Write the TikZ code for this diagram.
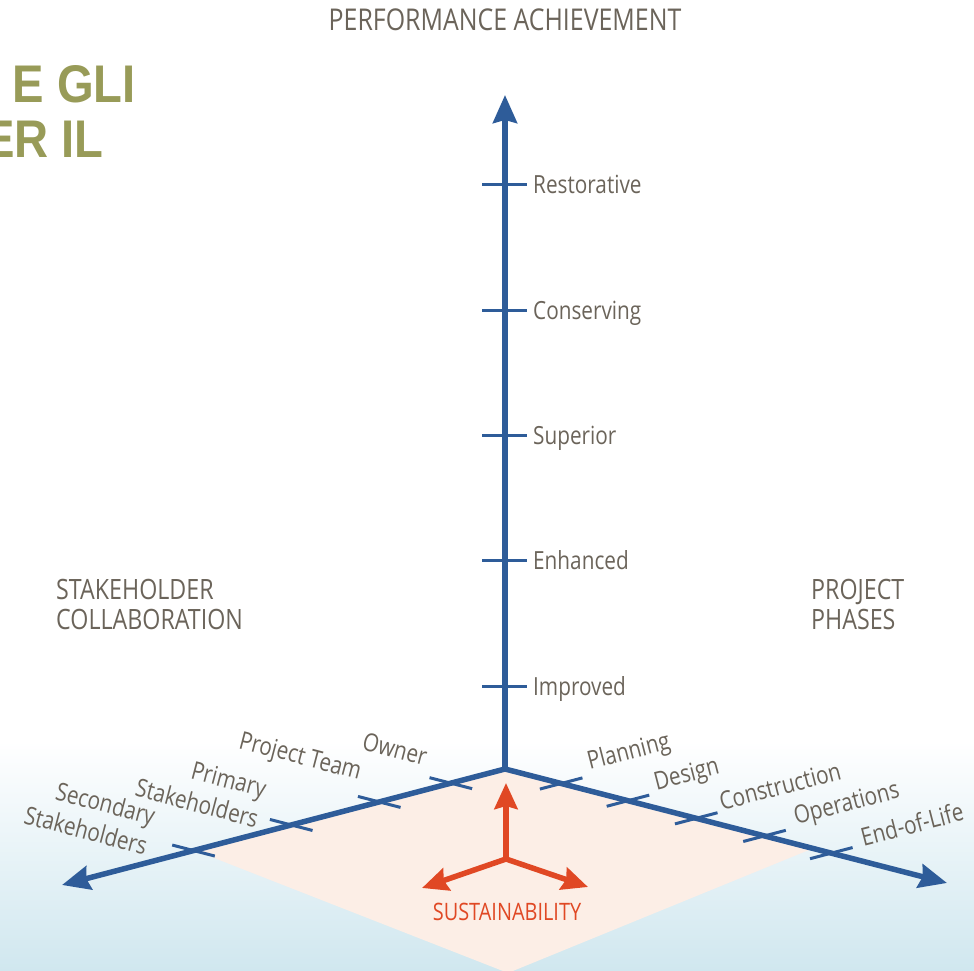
\documentclass[tikz,border=0pt]{standalone}
\usepackage{fontspec}
\setmainfont{Open Sans}[FakeStretch=0.83]
\newfontfamily\bannerfont{Liberation Sans}[FakeStretch=0.89]
\usetikzlibrary{calc,arrows.meta,positioning,shadings}
\definecolor{axisblue}{RGB}{46,92,153}
\definecolor{labelgrey}{RGB}{107,100,90}
\definecolor{sustred}{RGB}{224,72,36}
\definecolor{bannerolive}{RGB}{152,155,88}
\definecolor{peach}{RGB}{252,238,230}
\definecolor{skyblue}{RGB}{208,231,239}
\tikzset{
  mainaxis/.style={draw=axisblue, line width=5.5pt,
    -{Stealth[length=28pt,width=24pt,inset=3pt]}},
  axistick/.style={draw=axisblue, line width=3pt},
  sustarrow/.style={draw=sustred, line width=5.5pt,
    -{Stealth[length=26pt,width=23pt,inset=3pt]}},
  levellabel/.style={text=labelgrey, font=\fontsize{25}{30}\selectfont,
    anchor=base west, inner sep=0pt},
  axislabel/.style={text=labelgrey, font=\fontsize{25}{31}\selectfont,
    inner sep=0pt},
  heading/.style={text=labelgrey, font=\fontsize{28}{30}\selectfont,
    inner sep=0pt, align=left},
}

\begin{document}
\begin{tikzpicture}[x=1pt,y=1pt]
  \useasboundingbox (0,0) rectangle (974,971);
  % background
  \shade[top color=white, middle color=skyblue!50, bottom color=skyblue]
    (0,0) rectangle (974,230);

  \coordinate (O) at (505,202);
  \coordinate (top) at (505,876);
  \coordinate (left) at (62,86);
  \coordinate (right) at (947,88);

  % floor
  \fill[peach] (O) -- ($(O)!321pt!(left)$) -- (508,-2)
    -- ($(O)!318pt!(right)$) -- cycle;

  % sustainability
  \coordinate (S) at (506,112);
  \coordinate (Sup) at (506,188);
  \coordinate (Sleft) at (422,83);
  \coordinate (Sright) at (588,84);
  \draw[sustarrow] (S) -- (Sup);
  \draw[sustarrow] (S) -- (Sleft);
  \draw[sustarrow] (S) -- (Sright);
  \node[text=sustred, font=\fontsize{24}{26}\selectfont, inner sep=0pt]
    (sust) at (507,59) {SUSTAINABILITY};

  % ticks
  \foreach \y/\txt in {284/Improved,410/Enhanced,535/Superior,
                       660/Conserving,786/Restorative}{
    \draw[axistick] (482,\y) -- (527,\y);
    \node[levellabel] (lvl-\txt) at (533,\y-9) {\txt};
  }
  \foreach \dist [count=\i] in {56,130,221,322}
    \draw[axistick] ($($(O)!\dist pt!(left)$)+(165.5:22pt)$)
      -- ($($(O)!\dist pt!(left)$)+(-14.5:22pt)$);
  \foreach \dist [count=\i] in {58,127,197.5,268,337}
    \draw[axistick] ($($(O)!\dist pt!(right)$)+(194.7:22pt)$)
      -- ($($(O)!\dist pt!(right)$)+(14.7:22pt)$);

  % axes
  \draw[mainaxis] (O) -- (top);
  \draw[mainaxis] (O) -- (left);
  \draw[mainaxis] (O) -- (right);

  % stakeholder labels
  \node[axislabel, rotate=-14.7] (owner) at (395,222) {Owner};
  \node[axislabel, rotate=-14.7] (team) at (300,213) {Project Team};
  \node[axislabel, rotate=-14.7, align=right] (primary) at (201,183)
    {Primary\\Stakeholders};
  \node[axislabel, rotate=-14.7, align=right] (secondary) at (90,156)
    {Secondary\\Stakeholders};

  % phase labels
  \node[axislabel, rotate=14.5] (planning) at (629,218) {Planning};
  \node[axislabel, rotate=14.5] (design) at (687,195) {Design};
  \node[axislabel, rotate=14.5] (construction) at (780,185) {Construction};
  \node[axislabel, rotate=14.5] (operations) at (847,166) {Operations};
  \node[axislabel, rotate=14.5] (endoflife) at (912,147) {End-of-Life};

  % headings
  \node[heading, anchor=base, font=\fontsize{30}{32}\selectfont]
    (perf) at (505,940) {PERFORMANCE ACHIEVEMENT};
  \node[heading, anchor=base west] (stake) at (56,341)
    {STAKEHOLDER\\COLLABORATION};
  \node[heading, anchor=base west] (phases) at (811,341)
    {PROJECT\\PHASES};

  % cut banner text
  \begin{scope}
    \clip (0,0) rectangle (974,971);
    \node[text=bannerolive, font=\bannerfont\bfseries\fontsize{53}{60}\selectfont,
      anchor=base east, inner sep=0pt] (banner1) at (136,868) {E GLI};
    \node[text=bannerolive, font=\bannerfont\bfseries\fontsize{53}{60}\selectfont,
      anchor=base east, inner sep=0pt] (banner2) at (104,813) {ER IL};
  \end{scope}
\end{tikzpicture}
\end{document}
